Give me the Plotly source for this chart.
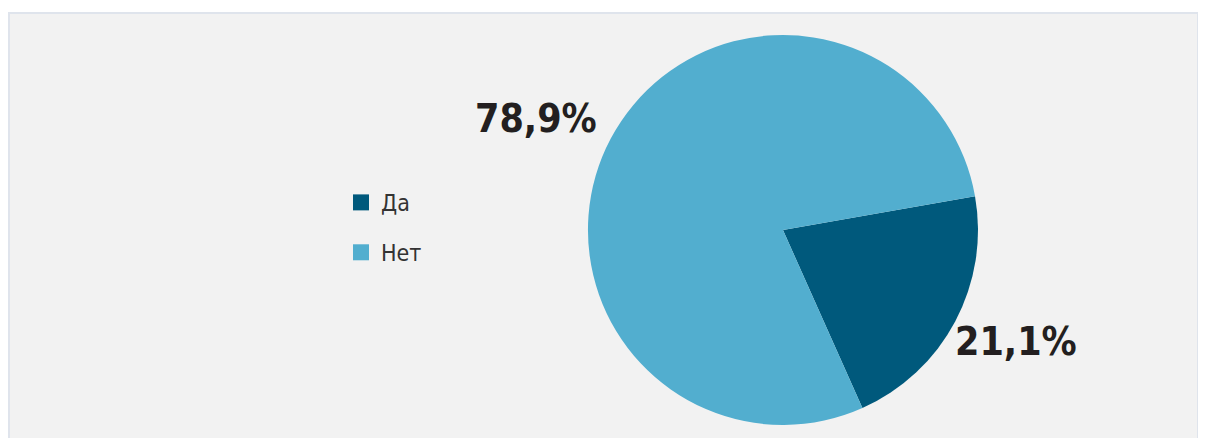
import plotly.graph_objects as go

labels = ["Да", "Нет"]
values = [21.1, 78.9]
colors = ["#00597c", "#52aecf"]
text_labels = ["21,1%", "78,9%"]

FONT = "DejaVu Sans Condensed, Roboto Condensed, Roboto, sans-serif"


def build(labels, values, colors, text_labels):
    fig = go.Figure()
    fig.add_trace(go.Pie(
        labels=labels, values=values, textinfo="none",
        marker=dict(colors=colors), sort=False, direction="clockwise", rotation=80,
        domain=dict(x=[0.4809, 0.8043], y=[0.0479, 0.9384]),
        showlegend=False, hoverinfo="label+percent",
    ))
    # legend entries as separate traces so the gap between them can be set
    for lab, col in zip(labels, colors):
        fig.add_trace(go.Scatter(
            x=[None], y=[None], mode="markers", name=lab, legendgroup=lab,
            marker=dict(symbol="square", size=17, color=col),
        ))
    # percentage labels beside the pie
    label_pos = {"Да": (0.8358, 0.238), "Нет": (0.4375, 0.748)}
    for lab, txt in zip(labels, text_labels):
        px_, py_ = label_pos[lab]
        fig.add_annotation(x=px_, y=py_, xref="paper", yref="paper", text=txt,
                           showarrow=False, xanchor="center", yanchor="middle",
                           font=dict(family=FONT, size=39, color="#231f20", weight="bold"))
    fig.add_shape(type="rect", xref="paper", yref="paper",
                  x0=0.0008, x1=1190 / 1206, y0=-0.02, y1=(438 - 5) / 438,
                  fillcolor="#f2f2f2", line=dict(color="#dfe4ec", width=2), layer="below")
    fig.update_layout(
        width=1206, height=438, margin=dict(l=0, r=0, t=0, b=0),
        paper_bgcolor="white", plot_bgcolor="rgba(0,0,0,0)",
        xaxis=dict(visible=False), yaxis=dict(visible=False),
        legend=dict(x=0.2761, xanchor="left", y=0.499, yanchor="middle",
                    traceorder="grouped", tracegroupgap=17, bgcolor="rgba(0,0,0,0)",
                    font=dict(family=FONT, size=23, color="#333333")),
    )
    return fig


fig = build(labels, values, colors, text_labels)
fig.write_html("out.html")
